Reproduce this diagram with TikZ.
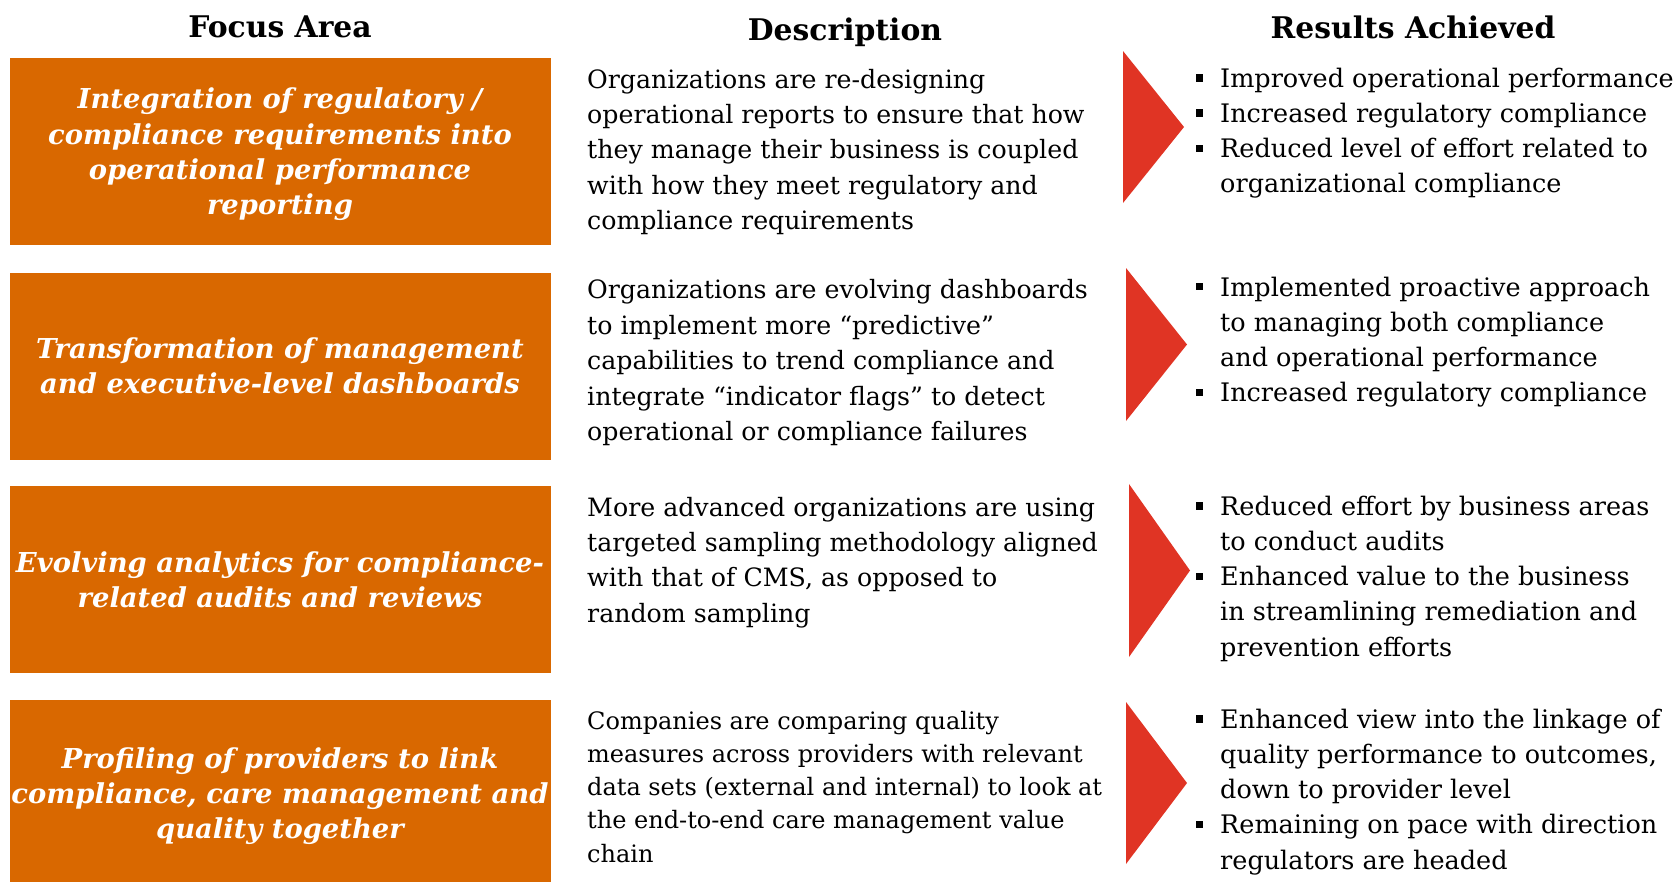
\documentclass[tikz,border=0pt]{standalone}
\usepackage{fontspec}
\setmainfont{DejaVu Serif}
\usetikzlibrary{positioning}
\definecolor{focusorange}{RGB}{217,104,0}
\definecolor{arrowred}{RGB}{224,52,36}
\tikzstyle{header}=[
        font=\fontsize{29.8}{34}\selectfont\bfseries
]
\tikzstyle{focus}=[
        fill=focusorange,
        text=white,
        inner sep=0pt,
        minimum width=541pt,
        minimum height=187pt,
        align=center,
        font=\fontsize{27.4}{35.3}\selectfont\bfseries\itshape
]
\tikzstyle{desc}=[
        anchor=north west,
        inner sep=0pt,
        align=left,
        font=\fontsize{25.25}{35.4}\selectfont
]
\tikzstyle{result}=[
        anchor=north west,
        inner sep=0pt,
        align=left,
        font=\fontsize{25.5}{35.2}\selectfont
]
\newcommand{\resitem}{\makebox[0pt][r]{\rule[0.22em]{7.5pt}{7.5pt}\hspace{17pt}}}
\newcommand{\nodp}[1]{\raisebox{0pt}[\height][0pt]{#1}}

\begin{document}
\begin{tikzpicture}[x=1pt,y=-1pt]
                    \useasboundingbox (0,0) rectangle (1677,881);

                    \node[header] (hfocus) at (280,27) {Focus Area};
                    \node[header] (hdesc) at (845,32) {Description};
                    \node[header] (hres) at (1413,27) {Results Achieved};

                    \node[focus] (focus1) at (280,151.5) {Integration of regulatory /\\compliance requirements into\\operational performance\\\nodp{reporting}};
                    \node[focus] (focus2) at (280,366) {Transformation of management\\and executive-level dashboards};
                    \node[focus] (focus3) at (280,579.5) {Evolving analytics for compliance-\\related audits and reviews};
                    \node[focus] (focus4) at (280,793) {Profiling of providers to link\\compliance, care management and\\\nodp{quality together}};

                    \node[desc] (desc1) at (587,63.2) {\strut Organizations are re-designing\\operational reports to ensure that how\\they manage their business is coupled\\with how they meet regulatory and\\compliance requirements};
                    \node[desc] (desc2) at (587,274) {\strut Organizations are evolving dashboards\\to implement more “predictive”\\capabilities to trend compliance and\\integrate “indicator flags” to detect\\operational or compliance failures};
                    \node[desc] (desc3) at (587,491.2) {\strut More advanced organizations are using\\targeted sampling methodology aligned\\with that of CMS, as opposed to\\random sampling};
                    \node[desc,font=\fontsize{24}{33.2}\selectfont] (desc4) at (587,705.8) {\strut Companies are comparing quality\\measures across providers with relevant\\data sets (external and internal) to look at\\the end-to-end care management value\\chain};

                    \foreach \x/\top/\bot in {1123/51/203,1126/268/421,1129/484/657,1126/702/864} {
                        \fill[arrowred] (\x,\top) -- (\x+61,{(\top+\bot)/2}) -- (\x,\bot) -- cycle;
                    }

                    \node[result] (res1) at (1220,62.4) {\strut\resitem Improved operational performance\\\resitem Increased regulatory compliance\\\resitem Reduced level of effort related to\\organizational compliance};
                    \node[result] (res2) at (1220,271.2) {\strut\resitem Implemented proactive approach\\to managing both compliance\\and operational performance\\\resitem Increased regulatory compliance};
                    \node[result] (res3) at (1220,490.4) {\strut\resitem Reduced effort by business areas\\to conduct audits\\\resitem Enhanced value to the business\\in streamlining remediation and\\prevention efforts};
                    \node[result] (res4) at (1220,703.4) {\strut\resitem Enhanced view into the linkage of\\quality performance to outcomes,\\down to provider level\\\resitem Remaining on pace with direction\\regulators are headed};
                \end{tikzpicture}
\end{document}
